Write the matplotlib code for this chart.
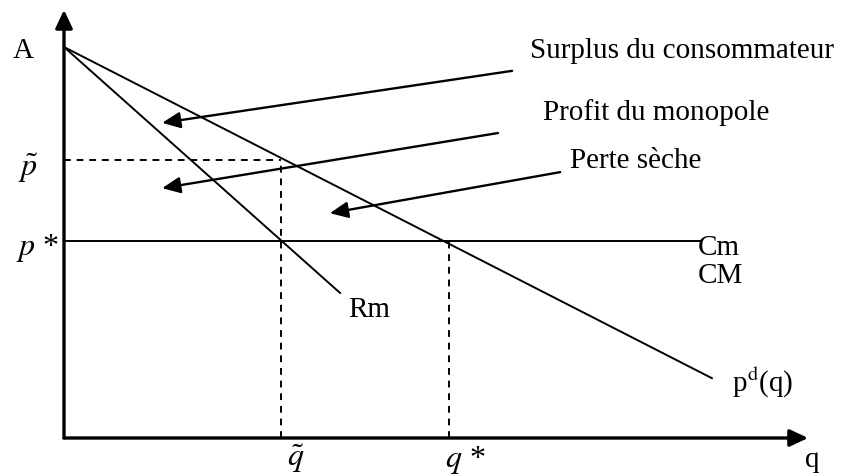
import matplotlib
matplotlib.use("Agg")
import matplotlib.pyplot as plt

# monopole diagram values (arbitrary units)
A = 10.0
demand_q = [0.0, 16.57]
demand_p = [A, 1.53]
rm_q = [0.0, 7.06]
rm_p = [A, 3.71]
p_star = 5.04
p_tilde = 7.11
q_star = 9.85
q_tilde = 5.55
cm_end = 16.27
x_max = 19.03
y_max = 10.95

plt.rcParams["font.family"] = ["Liberation Serif", "DejaVu Serif"]
plt.rcParams["mathtext.fontset"] = "stix"

fig = plt.figure(figsize=(8.66, 4.76), dpi=100)
ax = fig.add_axes([0, 0, 1, 1])
ax.set_xlim(-64 / 39.1, (866 - 64) / 39.1)
ax.set_ylim((438 - 476) / 39.1, 438 / 39.1)
ax.axis("off")

lw = 1.4
fs = 21
mfs = 23

# axes with arrow heads
axis_style = dict(arrowstyle="-|>,head_length=1.0,head_width=0.47", mutation_scale=11,
                  color="black", lw=2.4, shrinkA=0, shrinkB=0)
ax.annotate("", xy=(0, y_max), xytext=(0, 0), arrowprops=axis_style)
ax.annotate("", xy=(x_max, 0), xytext=(0, 0), arrowprops=axis_style)

# curves
ax.plot(demand_q, demand_p, color="black", lw=lw)
ax.plot(rm_q, rm_p, color="black", lw=lw)
ax.plot([0, cm_end], [p_star, p_star], color="black", lw=lw)

# dashed guides
dash = dict(color="black", lw=lw, linestyle=(0, (3.5, 3)))
ax.plot([0, q_tilde], [p_tilde, p_tilde], **dash)
ax.plot([q_tilde, q_tilde], [0, p_tilde], **dash)
ax.plot([q_star, q_star], [0, p_star], **dash)

# labels on axes
ax.text(-1.05, 9.72, "A", fontsize=fs, ha="center", va="baseline")
ax.text(-0.92, 6.89, r"$\tilde{p}$", fontsize=mfs, ha="center", va="center")
ax.text(-0.69, 4.85, r"$p$ *", fontsize=mfs, ha="center", va="center")
ax.text(5.93, -0.12, r"$\tilde{q}$", fontsize=mfs, ha="center", va="top")
ax.text(10.26, -0.16, r"$q$ *", fontsize=mfs, ha="center", va="top")
ax.text(19.13, -0.74, "q", fontsize=fs, ha="center", va="baseline")

# curve labels
ax.text(16.21, 4.68, "Cm", fontsize=fs, ha="left", va="baseline")
ax.text(16.21, 3.96, "CM", fontsize=fs, ha="left", va="baseline")
ax.text(7.26, 3.09, "Rm", fontsize=fs, ha="left", va="baseline")
ax.text(17.08, 1.18, r"p$^{\mathrm{d}}$(q)", fontsize=fs, ha="left", va="baseline")

# area annotations with arrows
arrow_style = dict(arrowstyle="-|>,head_length=1.0,head_width=0.45", mutation_scale=11,
                   color="black", lw=1.7, shrinkA=0, shrinkB=0)
notes = [
    ("Surplus du consommateur", (11.92, 9.72), (11.46, 9.39), (2.51, 8.06)),
    ("Profit du monopole", (12.25, 8.13), (11.10, 7.80), (2.51, 6.39)),
    ("Perte sèche", (12.94, 6.91), (12.69, 6.80), (6.80, 5.75)),
]
for label, pos, tail, tip in notes:
    ax.text(pos[0], pos[1], label, fontsize=fs, ha="left", va="baseline")
    ax.annotate("", xy=tip, xytext=tail, arrowprops=arrow_style)

fig.savefig("out.png", dpi=100)
